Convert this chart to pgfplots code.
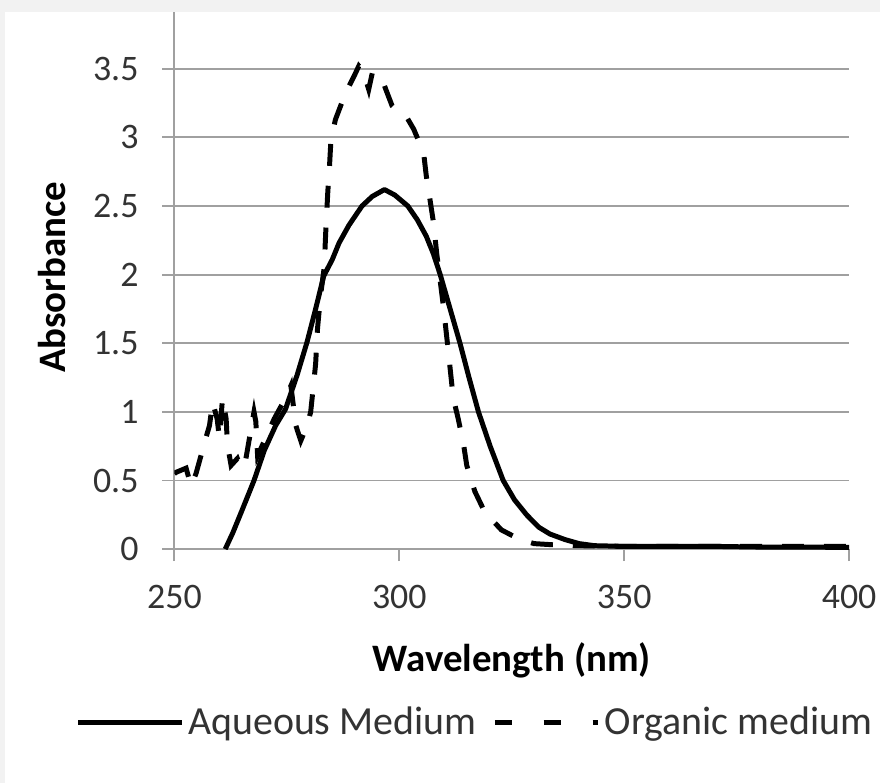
\documentclass[border=0pt]{standalone}
\usepackage{fontspec}
\setmainfont{Carlito}
\usepackage{pgfplots}
\pgfplotsset{compat=1.18}
\definecolor{bggray}{HTML}{F2F2F2}
\definecolor{gridgray}{HTML}{A0A0A0}
\definecolor{txt}{HTML}{333333}

\pgfplotstableread{
lam A
261.3 0
263 0.12
265 0.28
267.7 0.5
270 0.72
272.5 0.9
274.7 1.02
277.3 1.27
279.5 1.51
281.4 1.75
283.2 1.99
285.1 2.11
286.6 2.23
288.8 2.36
291.7 2.50
294 2.57
296.7 2.62
299 2.58
301.9 2.50
304 2.40
306 2.28
307.6 2.15
309.1 2.0
311.3 1.75
313.5 1.5
315.5 1.25
317.6 1.0
320.2 0.75
323.1 0.5
325.6 0.36
328.3 0.25
331 0.16
333.5 0.11
336.8 0.07
340 0.04
343.4 0.025
350 0.02
360 0.02
370 0.02
380 0.015
390 0.015
400 0.012
}\aqueous

\pgfplotstableread{
lam A
250 0.55
250.4 0.56
252.6 0.59
253.7 0.46
254.8 0.55
255.9 0.68
257 0.81
257.8 0.9
258.5 1.07
259.5 0.95
260 0.81
260.7 1.1
261.5 0.95
261.8 0.76
262.6 0.61
264 0.66
264.8 0.59
265.9 0.66
267.7 1.0
268.1 0.93
268.5 0.68
269.6 0.76
270.3 0.81
272.2 0.95
274.7 1.1
275.9 1.19
277 0.9
278.1 0.79
279.5 0.9
280.3 1.0
281 1.22
281.4 1.35
281.8 1.6
282.5 1.85
283.3 2.05
283.7 2.35
284.1 2.6
284.5 2.8
284.8 2.98
285.8 3.13
288 3.32
290 3.45
291 3.52
292 3.48
293.2 3.35
294 3.47
295 3.45
296 3.44
297 3.35
298.4 3.23
300 3.18
301.6 3.15
303.2 3.06
305.4 2.89
306 2.72
306.9 2.53
307.6 2.38
308.3 2.16
309.8 1.77
310.9 1.44
312 1.10
313.1 0.95
314.3 0.76
315 0.61
316.8 0.42
319 0.27
322.7 0.14
326.8 0.07
330 0.04
335 0.03
340 0.025
350 0.02
360 0.02
380 0.02
400 0.02
}\organic

\begin{document}
\begin{tikzpicture}
\fill[bggray] (0,0) rectangle (441.5pt,-393pt);
\fill[white] (2.5pt,-6pt) rectangle (441.5pt,-393pt);
\begin{axis}[
  at={(87.5pt,-275.5pt)}, anchor=south west,
  width=338.5pt, height=269.5pt, scale only axis,
  xmin=250, xmax=400, ymin=0, ymax=3.914,
  xtick={250,300,350,400}, ytick={0,0.5,1,1.5,2,2.5,3,3.5},
  axis x line*=bottom, axis y line*=left,
  axis line style={gridgray, line width=1pt, -},
  ymajorgrids, grid style={gridgray, line width=1pt},
  tick align=outside, major tick length=6pt,
  tick style={gridgray, line width=1pt},
  /pgf/number format/assume math mode=true,
  ticklabel style={font=\fontsize{18}{20}\selectfont, text=txt},
  xticklabel style={yshift=-8.5pt},
  yticklabel style={xshift=-8.5pt},
  xlabel={\textbf{Wavelength (nm)}}, ylabel={\textbf{Absorbance}},
  label style={font=\fontsize{19.5}{22}\selectfont, text=black},
  xlabel style={at={(axis description cs:0.5,-0.208)}, anchor=center},
  ylabel style={at={(axis description cs:-0.182,0.506)}, anchor=center},
  legend columns=2,
  legend style={at={(axis description cs:0.447,-0.322)}, anchor=center,
    draw=none, fill=none, font=\fontsize{20}{22}\selectfont, text=txt,
    /tikz/every even column/.append style={column sep=6pt},
    nodes={inner xsep=2pt}},
]
\addplot[black, line width=2.5pt, line join=round,
  legend image code/.code={\draw[black, line width=2.5pt] (0pt,0pt) -- (52pt,0pt);}]
  table[x=lam, y=A] {\aqueous};
\addlegendentry{Aqueous Medium}
\addplot[black, line width=2.5pt, dash pattern=on 11pt off 10pt,
  legend image code/.code={\draw[black, line width=2.5pt, dash pattern=on 8.5pt off 16pt] (0pt,0pt) -- (52pt,0pt);}]
  table[x=lam, y=A] {\organic};
\addlegendentry{Organic medium}
\end{axis}
\end{tikzpicture}
\end{document}
